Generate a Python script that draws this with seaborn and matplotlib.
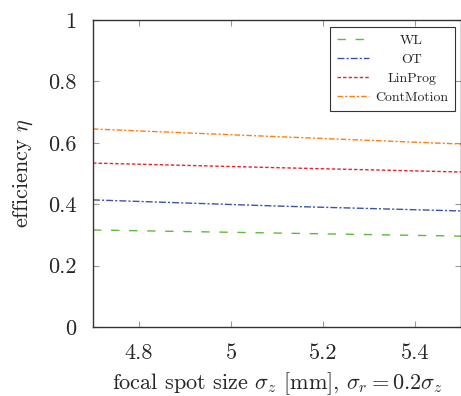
import matplotlib
matplotlib.use("Agg")
import matplotlib.pyplot as plt
import seaborn as sns
import pandas as pd

sigma_z = [4.7, 5.1, 5.5]
wl = [0.316, 0.306, 0.296]
ot = [0.414, 0.394, 0.378]
linprog = [0.534, 0.519, 0.505]
contmotion = [0.645, 0.620, 0.596]
names = ["WL", "OT", "LinProg", "ContMotion"]
xticks = [4.8, 5.0, 5.2, 5.4]
xticklabels = ["4.8", "5", "5.2", "5.4"]
yticks = [0, 0.2, 0.4, 0.6, 0.8, 1.0]
yticklabels = ["0", "0.2", "0.4", "0.6", "0.8", "1"]

sns.set_theme(style="white")
plt.rcParams["font.family"] = ["serif"]
plt.rcParams["font.serif"] = ["cmr10", "DejaVu Serif"]
plt.rcParams["mathtext.fontset"] = "cm"
plt.rcParams["axes.unicode_minus"] = False

fig = plt.figure(figsize=(4.61, 3.96), dpi=100)
ax = fig.add_axes([93/461, 1-327/396, 1-93/461, (327-20)/396])

colors = ["#5dbb3a", "#3a55a8", "#e8242b", "#ff7f0e"]
styles = [(0, (6, 7)), (0, (5, 1.5, 1.5, 1.5)), (0, (2.5, 1.5)), (0, (4, 1.5, 1.5, 1.5))]
series = [wl, ot, linprog, contmotion]
for name, vals, c, ls in zip(names, series, colors, styles):
    df = pd.DataFrame({"x": sigma_z, "y": vals})
    sns.lineplot(data=df, x="x", y="y", ax=ax, color=c, linestyle=ls,
                 linewidth=1.0, label=name)

ax.set_xlim(4.7, 5.5)
ax.set_ylim(0, 1)
ax.set_xticks(xticks)
ax.set_xticklabels(xticklabels, fontsize=16)
ax.set_yticks(yticks)
ax.set_yticklabels(yticklabels, fontsize=16)
ax.tick_params(axis="x", direction="in", length=4, width=0.8, color="#999999",
               top=True, bottom=True, pad=12)
ax.tick_params(axis="y", direction="in", length=4, width=0.8, color="#999999",
               left=True, right=True, pad=12)
for s in ax.spines.values():
    s.set_color("#333333")
    s.set_linewidth(1.0)
ax.set_xlabel(r"focal spot size $\sigma_z$ [mm], $\sigma_r = 0.2\sigma_z$", fontsize=16, labelpad=5)
ax.set_ylabel(r"efficiency $\eta$", fontsize=16, labelpad=9)

leg = ax.legend(loc="upper right", fontsize=10, frameon=True, fancybox=False,
                edgecolor="black", handlelength=2.3, handletextpad=0.4,
                borderpad=0.5, borderaxespad=0, labelspacing=0.45,
                bbox_to_anchor=((455-93)/368, (327-27)/307))
leg.get_frame().set_linewidth(0.8)

# center legend labels within their column
fig.canvas.draw()
r = fig.canvas.get_renderer()
widths = [t.get_window_extent(r).width for t in leg.get_texts()]
mw = max(widths)
for t, w in zip(leg.get_texts(), widths):
    t.set_x((mw - w) / 2)

fig.savefig("out.png", dpi=100)
